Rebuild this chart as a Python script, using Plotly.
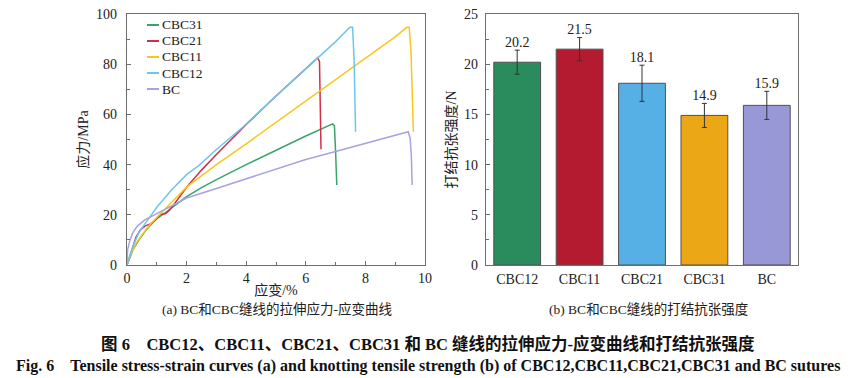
import plotly.graph_objects as go

# ---------------- data ----------------
series_names = ["CBC31", "CBC21", "CBC11", "CBC12", "BC"]

cbc31_strain = [0, 0.1, 0.2, 0.4, 0.6, 0.8, 1.0, 1.3, 1.6, 2.0, 2.5, 3.0, 4.0, 5.0, 6.0, 6.9, 6.96, 7.0, 7.04]
cbc31_stress = [0, 3, 6, 10, 13.3, 16, 18.5, 21, 23.6, 27.2, 30.8, 34, 40, 45.8, 51.4, 56.2, 55.5, 45, 31.9]

cbc21_strain = [0, 0.1, 0.2, 0.3, 0.45, 0.6, 0.8, 1.0, 1.1, 1.3, 1.4, 1.6, 2.0, 2.5, 3.0, 3.5, 4.0, 5.0, 6.0, 6.4, 6.46, 6.49, 6.51]
cbc21_stress = [0, 4, 8, 11, 14, 15.5, 16.5, 18.5, 20, 20.5, 21.5, 24.5, 31, 37.8, 44, 50, 56, 67.3, 78.3, 82.6, 81, 65, 46.1]

cbc11_strain = [0, 0.1, 0.3, 0.5, 0.8, 1.0, 1.5, 2.0, 2.5, 2.8, 3.0, 4.0, 5.0, 6.0, 7.0, 8.0, 9.0, 9.39, 9.47, 9.53, 9.61]
cbc11_stress = [0, 3.5, 8.5, 12, 16.5, 19, 25, 31, 35.5, 38, 40, 48.3, 56.8, 65.3, 73.9, 82.4, 90.9, 94.7, 94.7, 85, 53.1]

cbc12_strain = [0, 0.1, 0.2, 0.4, 0.6, 0.8, 1.0, 1.5, 2.0, 2.2, 2.4, 3.0, 3.5, 3.9, 5.0, 6.0, 6.4, 7.0, 7.48, 7.57, 7.62, 7.67]
cbc12_stress = [0, 4, 7.5, 13, 16.5, 19.5, 23, 30, 36, 37.8, 39.5, 46, 51, 55.1, 67.3, 78.3, 82.8, 89, 94.7, 94.7, 82, 53.1]

bc_strain = [0, 0.02, 0.1, 0.2, 0.35, 0.6, 1.0, 1.5, 2.0, 3.0, 4.0, 5.0, 6.0, 7.0, 8.0, 9.0, 9.44, 9.5, 9.54, 9.57]
bc_stress = [0, 6, 10, 13, 15.5, 18, 20.5, 23.5, 26.7, 30.5, 34.3, 38.1, 42, 45.2, 48.4, 51.7, 53.1, 50.5, 44, 31.9]

bar_categories = ["CBC12", "CBC11", "CBC21", "CBC31", "BC"]
bar_values = [20.2, 21.5, 18.1, 14.9, 15.9]
bar_errors = [1.2, 1.15, 1.8, 1.2, 1.4]
bar_labels = ["20.2", "21.5", "18.1", "14.9", "15.9"]

# ---------------- styles ----------------
line_colors = {"CBC31": "#3AA36A", "CBC21": "#CF3049", "CBC11": "#F6C71E",
               "CBC12": "#6CC6F0", "BC": "#A8A2DF"}
bar_colors = ["#2A8C5C", "#B51B30", "#56AFE5", "#ECA716", "#9898D6"]

SERIF = "Liberation Serif, Noto Sans CJK SC"
AXC = "#6e6e6e"
TXT = "#222222"

curves = {
    "CBC31": (cbc31_strain, cbc31_stress),
    "CBC21": (cbc21_strain, cbc21_stress),
    "CBC11": (cbc11_strain, cbc11_stress),
    "CBC12": (cbc12_strain, cbc12_stress),
    "BC": (bc_strain, bc_stress),
}

fig = go.Figure()

for name in series_names:
    xs, ys = curves[name]
    fig.add_trace(go.Scatter(x=xs, y=ys, mode="lines", name=name,
                             line=dict(color=line_colors[name], width=1.5),
                             xaxis="x", yaxis="y", showlegend=False))

fig.add_trace(go.Bar(x=bar_categories, y=bar_values, width=0.75,
                     marker=dict(color=bar_colors, line=dict(color="#505050", width=1)),
                     error_y=dict(type="data", array=bar_errors, color="#333333",
                                  thickness=1, width=2.5),
                     xaxis="x2", yaxis="y2", showlegend=False))

fig.add_trace(go.Scatter(x=bar_categories, y=[v + e for v, e in zip(bar_values, bar_errors)],
                         mode="text", text=bar_labels, textposition="top center",
                         textfont=dict(family=SERIF, size=14, color=TXT),
                         xaxis="x2", yaxis="y2", showlegend=False, hoverinfo="skip",
                         cliponaxis=False))

# the page body has an 8px margin; size the figure so it fills the window
OFF = 8
W, H = 855 - OFF, 378 - OFF
def px_x(p): return (p - OFF) / W
def px_y(p): return 1 - (p - OFF) / H

tickfont = dict(family=SERIF, size=14, color=TXT)
common = dict(showline=True, linecolor=AXC, linewidth=1.2, mirror=True,
              ticks="inside", ticklen=4, tickcolor=AXC, tickwidth=1,
              showgrid=False, zeroline=False, tickfont=tickfont, automargin=False,
              ticklabeloverflow="allow")

fig.update_layout(
    width=W, height=H,
    margin=dict(l=0, r=0, t=0, b=0, pad=0, autoexpand=False),
    paper_bgcolor="white", plot_bgcolor="white",
    showlegend=False,
    xaxis=dict(domain=[px_x(127), px_x(425)], range=[0, 10], dtick=2,
               minor=dict(dtick=1, ticks="inside", ticklen=3, tickcolor=AXC),
               title=dict(text="应变/%", font=dict(family=SERIF, size=14, color=TXT), standoff=0),
               ticklabelstandoff=0, anchor="y", **common),
    yaxis=dict(domain=[px_y(265), px_y(14)], range=[0, 100], dtick=20,
               minor=dict(dtick=10, ticks="inside", ticklen=3, tickcolor=AXC),
               title=dict(text="应力/MPa", font=dict(family=SERIF, size=14, color=TXT), standoff=4),
               ticklabelstandoff=6, anchor="x", **common),
    xaxis2=dict(domain=[px_x(486), px_x(798)], range=[-0.5, 4.5], anchor="y2",
                showline=True, linecolor=AXC, linewidth=1.2, mirror=True, ticks="",
                showgrid=False, zeroline=False, tickfont=tickfont, ticklabelstandoff=1,
                automargin=False, ticklabeloverflow="allow"),
    yaxis2=dict(domain=[px_y(265), px_y(14)], range=[0, 25], dtick=5,
                minor=dict(dtick=2.5, ticks="inside", ticklen=3, tickcolor=AXC),
                title=dict(text="打结抗张强度/N", font=dict(family=SERIF, size=14, color=TXT), standoff=4),
                ticklabelstandoff=4, anchor="x2", **common),
)

# legend (drawn manually to match compact spacing)
for i, name in enumerate(series_names):
    yy = px_y(25 + 16 * i)
    fig.add_shape(type="line", xref="paper", yref="paper",
                  x0=px_x(147), x1=px_x(159), y0=yy, y1=yy,
                  line=dict(color=line_colors[name], width=2))
    fig.add_annotation(text=name, x=px_x(160), y=yy, xref="paper", yref="paper",
                       xanchor="left", yanchor="middle", showarrow=False,
                       font=dict(family=SERIF, size=13.5, color=TXT))

def caption(text, x, y, size, color=TXT):
    fig.add_annotation(text=text, x=px_x(x), y=px_y(y), xref="paper", yref="paper",
                       xanchor="center", yanchor="middle", showarrow=False,
                       font=dict(family=SERIF, size=size, color=color))

caption("(a) BC和CBC缝线的拉伸应力-应变曲线", 277, 309, 13.5)
caption("(b) BC和CBC缝线的打结抗张强度", 648, 309, 13.5)
caption("<b>图 6　CBC12、CBC11、CBC21、CBC31 和 BC 缝线的拉伸应力-应变曲线和打结抗张强度</b>", 428, 344, 16.5, "#111")
caption("<b>Fig. 6　Tensile stress-strain curves (a) and knotting tensile strength (b) of CBC12,CBC11,CBC21,CBC31 and BC sutures</b>", 428, 366, 16, "#111")

fig.write_html("out.html")
